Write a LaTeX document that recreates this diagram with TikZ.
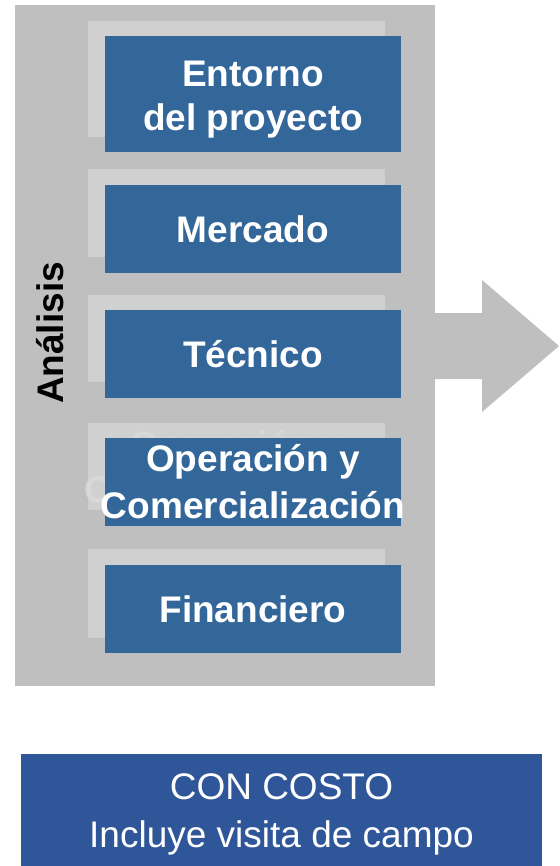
\documentclass[tikz,border=0pt]{standalone}
\usepackage{fontspec}
\setmainfont{Liberation Sans}
\definecolor{outergray}{HTML}{BFBFBF}
\definecolor{shadowgray}{HTML}{D0D0D0}
\definecolor{ghostgray}{HTML}{D8D8D8}
\definecolor{boxblue}{HTML}{336699}
\definecolor{costblue}{HTML}{30569A}
\begin{document}
\begin{tikzpicture}[x=1pt,y=-1pt,
  shadowbox/.style={fill=shadowgray, draw=none, minimum width=297pt, inner sep=0pt},
  bluebox/.style={fill=boxblue, draw=none, minimum width=296pt, inner sep=0pt,
    text=white, align=center, font=\fontsize{37}{44}\selectfont\bfseries},
  boxtext/.style={text=white, align=center, font=\fontsize{37}{44}\selectfont\bfseries},
  ghost/.style={text=ghostgray, align=center, font=\fontsize{37}{45}\selectfont\bfseries},
]
\useasboundingbox (0,0) rectangle (559,866);
% outer panel
\node[fill=outergray, minimum width=420pt, minimum height=681pt, inner sep=0pt] (outer) at (225,345.5) {};
% block arrow
\fill[outergray] (430,313) -- (482,313) -- (482,280) -- (559,346) -- (482,412) -- (482,379) -- (430,379) -- cycle;
% label
\node[rotate=90, font=\fontsize{37}{44}\selectfont\bfseries] (analisis) at (50,333) {Análisis};
% shadows
\node[shadowbox, minimum height=116pt] (s1) at (236.5,79) {};
\node[shadowbox, minimum height=88pt] (s2) at (236.5,213) {};
\node[shadowbox, minimum height=87pt] (s3) at (236.5,338.5) {};
\node[shadowbox, minimum height=87pt] (s4) at (236.5,466.5) {};
\node[ghost] (g4) at (236.5,466.5) {Operación y\\Comercialización};
\node[shadowbox, minimum height=89pt] (s5) at (236.5,593.5) {};
% blue boxes
\node[bluebox, minimum height=116pt] (b1) at (253,94) {};
\node[boxtext] (t1) at (253,100) {Entorno\\del proyecto};
\node[bluebox, minimum height=88pt] (b2) at (253,229) {Mercado};
\node[bluebox, minimum height=88pt] (b3) at (253,354) {Técnico};
\node[bluebox, minimum height=88pt] (b4) at (253,482) {};
\node[boxtext, font=\fontsize{37}{47}\selectfont\bfseries] (t4) at (253,482) {Operación y\\Comercialización};
\node[bluebox, minimum height=88pt] (b5) at (253,609) {Financiero};
% bottom box
\node[fill=costblue, minimum width=521pt, minimum height=112pt, inner sep=0pt] (cost) at (281.5,810) {};
\node[text=white, align=center, font=\fontsize{37}{48}\selectfont] (costtext) at (281.5,814) {CON COSTO\\Incluye visita de campo};
\end{tikzpicture}
\end{document}
